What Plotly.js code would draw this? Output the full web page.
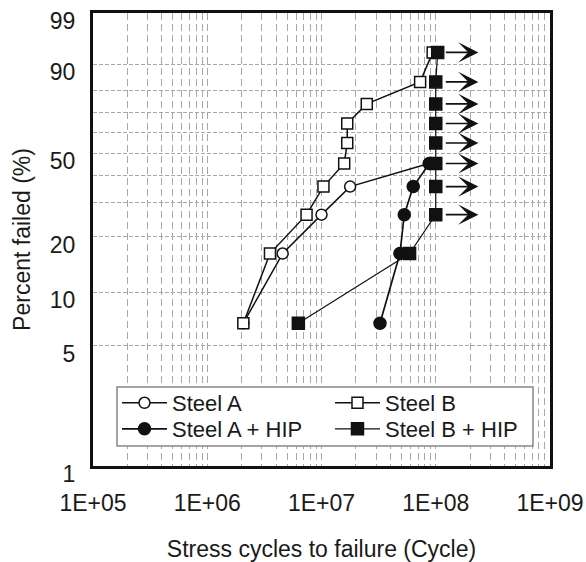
<!DOCTYPE html>
<html>
<head>
<meta charset="utf-8">
<script src="https://cdn.plot.ly/plotly-3.0.1.min.js"></script>
<style>html,body{margin:0;padding:0;background:#fff;}#chart{width:586px;height:562px;}</style>
</head>
<body>
<div id="chart"></div>
<script>
// ---- data ----
const seriesNames = ["Steel A", "Steel B", "Steel A + HIP", "Steel B + HIP"];

const steelA_cycles = [2.07e6, 4.57e6, 1.00e7, 1.78e7, 8.7e7];
const steelA_pct    = [6.7, 16.3, 26.0, 35.6, 45.2];

const steelB_cycles = [2.07e6, 3.54e6, 7.4e6, 1.04e7, 1.58e7, 1.68e7, 1.68e7, 2.49e7, 7.3e7, 9.4e7];
const steelB_pct    = [6.7, 16.3, 26.0, 35.6, 45.2, 54.8, 64.4, 74.0, 83.7, 93.3];

const steelAHIP_cycles = [3.25e7, 4.86e7, 5.3e7, 6.35e7, 8.8e7];
const steelAHIP_pct    = [6.7, 16.3, 26.0, 35.6, 45.2];

const steelBHIP_cycles = [6.27e6, 5.9e7, 1.0e8, 1.0e8, 1.0e8, 1.0e8, 1.0e8, 1.0e8, 1.0e8, 1.04e8];
const steelBHIP_pct    = [6.7, 16.3, 26.0, 35.6, 45.2, 54.8, 64.4, 74.0, 83.7, 93.3];
const steelBHIP_runout = [false, false, true, true, true, true, true, true, true, true];

const yTickPct   = [1, 5, 10, 20, 50, 90, 99];
const yTickText  = ["1", "5", "10", "20", "50", "90", "99"];
const yMinorPct  = [30, 40, 60, 70, 80];
const xTickVals  = [1e5, 1e6, 1e7, 1e8, 1e9];
const xTickText  = ["1E+05", "1E+06", "1E+07", "1E+08", "1E+09"];

// ---- Weibull probability scale ----
const wb = p => Math.log(-Math.log(1 - p / 100));

const FONT = "Liberation Sans, Arial, sans-serif";
const FS = 23;
const TXT = "#1a1a1a";
const GRID = "#a8a8a8";

function trace(name, xs, ps, symbol, size, lw, filled, legend) {
  return {
    type: "scatter", mode: "lines+markers", name: name, legend: legend,
    x: xs, y: ps.map(wb),
    line: {color: "#111", width: lw},
    marker: {symbol: symbol, size: size, color: filled ? "#111" : "#fff",
             line: {color: "#111", width: 1.5}},
    hoverinfo: "skip"
  };
}

const data = [
  trace(seriesNames[0], steelA_cycles, steelA_pct, "circle", 11, 1.5, false, "legend"),
  trace(seriesNames[1], steelB_cycles, steelB_pct, "square", 11, 1.5, false, "legend"),
  trace(seriesNames[2], steelAHIP_cycles, steelAHIP_pct, "circle", 12, 1.7, true, "legend2"),
  trace(seriesNames[3], steelBHIP_cycles, steelBHIP_pct, "square", 12, 1.2, true, "legend2")
];

// run-out arrows
const annotations = [];
steelBHIP_cycles.forEach((c, i) => {
  if (!steelBHIP_runout[i]) return;
  const y = wb(steelBHIP_pct[i]);
  const lx = Math.log10(1.0e8);
  annotations.push({
    x: lx + 0.373, y: y, ax: lx + 0.075, ay: y,
    xref: "x", yref: "y", axref: "x", ayref: "y",
    showarrow: true, arrowhead: 3, arrowsize: 2.1, arrowwidth: 1.6,
    arrowcolor: "#111", text: "", standoff: 0, startstandoff: 0
  });
});

const legendCommon = {
  orientation: "h", x: 0.0525, xanchor: "left", yanchor: "middle",
  entrywidth: 153, entrywidthmode: "pixels",
  bgcolor: "rgba(0,0,0,0)", borderwidth: 0,
  font: {family: FONT, size: 22, color: TXT},
  itemwidth: 45, tracegroupgap: 0
};

const layout = {
  width: 586, height: 562,
  margin: {l: 93, r: 36, t: 13, b: 96},
  paper_bgcolor: "#fff", plot_bgcolor: "#fff",
  font: {family: FONT, size: FS, color: TXT},
  showlegend: true,
  legend: Object.assign({}, legendCommon, {y: 0.1391}),
  legend2: Object.assign({}, legendCommon, {y: 0.0817}),
  shapes: [{
    type: "rect", xref: "paper", yref: "paper", layer: "above",
    x0: 0.0525, x1: 0.9628, y0: 0.0442, y1: 0.1744,
    fillcolor: "#fff", line: {color: "#888", width: 1.5}
  }],
  xaxis: {
    type: "log", range: [5, 9], automargin: false,
    tickmode: "array", tickvals: xTickVals, ticktext: xTickText,
    ticks: "", ticklabelstandoff: 14,
    showline: true, linecolor: "#111", linewidth: 3, mirror: true,
    showgrid: true, gridcolor: GRID, gridwidth: 1, griddash: "7px,4px",
    minor: {dtick: "D1", showgrid: true, gridcolor: GRID, gridwidth: 1, griddash: "7px,4px", ticks: ""},
    zeroline: false,
    tickfont: {family: FONT, size: FS, color: TXT},
    title: {text: "Stress cycles to failure (Cycle)", standoff: 27, font: {family: FONT, size: FS, color: TXT}}
  },
  yaxis: {
    type: "linear", range: [wb(1), wb(99)], automargin: false,
    tickmode: "array", tickvals: yTickPct.map(wb), ticktext: yTickText,
    ticks: "", ticklabelstandoff: 10, ticklabelshift: 8,
    showline: true, linecolor: "#111", linewidth: 3, mirror: true,
    showgrid: true, gridcolor: GRID, gridwidth: 1, griddash: "4px,2px",
    minor: {tickvals: yMinorPct.map(wb), showgrid: true, gridcolor: GRID, gridwidth: 1, griddash: "4px,2px", ticks: ""},
    zeroline: false,
    tickfont: {family: FONT, size: FS, color: TXT},
    title: {text: "Percent failed (%)", standoff: 13, font: {family: FONT, size: FS, color: TXT}}
  },
  annotations: annotations
};

Plotly.newPlot("chart", data, layout, {displayModeBar: false, staticPlot: true});
</script>
</body>
</html>
